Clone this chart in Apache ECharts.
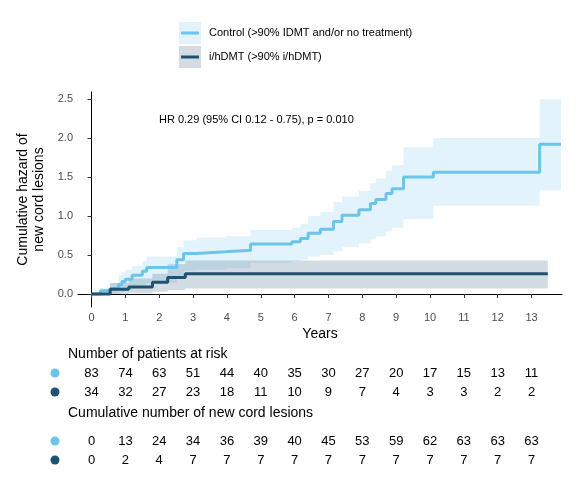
<!DOCTYPE html>
<html><head><meta charset="utf-8">
<script src="https://cdn.jsdelivr.net/npm/echarts@6/dist/echarts.min.js"></script>
<style>html,body{margin:0;padding:0;background:#fff}#c{width:576px;height:480px}</style>
</head><body><div id="c"></div>
<script>
const ctrlX   = [0,0.26,0.55,0.8,0.9,1.0,1.2,1.5,1.63,2.52,2.72,3.1,3.95,4.7,5.92,6.17,6.4,6.76,7.15,7.4,7.9,8.24,8.4,8.7,8.88,9.22,10.1,13.24,13.87];
const ctrlY   = [0,0.04,0.07,0.12,0.16,0.19,0.24,0.29,0.34,0.44,0.52,0.54,0.56,0.64,0.67,0.71,0.78,0.83,0.93,1.01,1.08,1.16,1.21,1.29,1.35,1.50,1.56,1.92,1.92];
const ctrlLo  = [0,0,0,0.02,0.03,0.05,0.08,0.11,0.14,0.2,0.3,0.31,0.33,0.4,0.42,0.44,0.48,0.5,0.55,0.6,0.65,0.7,0.74,0.8,0.85,0.96,1.13,1.33,1.33];
const ctrlHi  = [0,0.08,0.14,0.24,0.28,0.31,0.36,0.42,0.48,0.6,0.69,0.72,0.74,0.82,0.85,0.9,1.0,1.05,1.18,1.25,1.32,1.42,1.48,1.58,1.65,1.88,2.0,2.5,2.5];
const dmtX    = [0,0.55,1.1,1.8,2.25,2.77,13.48];
const dmtY    = [0,0.06,0.09,0.15,0.21,0.26,0.26];
const dmtLo   = [0,0,0.01,0.03,0.05,0.07,0.07];
const dmtHi   = [0,0.14,0.2,0.26,0.38,0.43,0.43];
const years   = [0,1,2,3,4,5,6,7,8,9,10,11,12,13];
const riskCtrl= [83,74,63,51,44,40,35,30,27,20,17,15,13,11];
const riskDmt = [34,32,27,23,18,11,10,9,7,4,3,3,2,2];
const cumCtrl = [0,13,24,34,36,39,40,45,53,59,62,63,63,63];
const cumDmt  = [0,2,4,7,7,7,7,7,7,7,7,7,7,7];
const yTicks  = [0,0.5,1,1.5,2,2.5];

const C1='#6cc4ea', C2='#1f5270', F='Liberation Sans';
const pairs=(xs,ys)=>xs.map((x,i)=>[x,ys[i]]);
function stepPts(xs,ys){const p=[];for(let i=0;i<xs.length;i++){if(i>0)p.push([xs[i],ys[i-1]]);p.push([xs[i],ys[i]]);}return p;}
function band(xs,lo,hi,col){
  return {type:'custom',silent:true,z:1,data:[[xs[0],lo[0]]],
    renderItem:(params,api)=>{
      const up=stepPts(xs,hi), dn=stepPts(xs,lo).reverse();
      const pts=up.concat(dn).map(p=>api.coord(p));
      return {type:'polygon',shape:{points:pts},style:{fill:col}};
    }};
}
const chart=echarts.init(document.getElementById('c'),null,{renderer:'canvas'});
chart.setOption({
  animation:false,
  grid:{left:78,right:14,top:92,bottom:173},
  xAxis:{type:'value',min:-0.4,max:13.9,
    axisLine:{lineStyle:{color:'#000'}},splitLine:{show:false},
    axisTick:{customValues:years,length:4,lineStyle:{color:'#333'}},
    axisLabel:{customValues:years,color:'#4d4d4d',fontFamily:F,fontSize:11,margin:5},
    name:'Years',nameLocation:'middle',nameGap:20,nameTextStyle:{color:'#000',fontFamily:F,fontSize:14}},
  yAxis:{type:'value',min:-0.167,max:2.59,
    axisLine:{show:true,lineStyle:{color:'#000'}},splitLine:{show:false},
    axisTick:{show:true,customValues:yTicks,length:4,lineStyle:{color:'#333'}},
    axisLabel:{customValues:yTicks,color:'#4d4d4d',fontFamily:F,fontSize:11,margin:5,formatter:v=>v.toFixed(1)},
    name:'Cumulative hazard of\nnew cord lesions',nameLocation:'middle',nameGap:30,nameTextStyle:{color:'#000',fontFamily:F,fontSize:14,lineHeight:16}},
  series:[
    band(ctrlX,ctrlLo,ctrlHi,'rgba(108,196,234,0.2)'),
    band(dmtX,dmtLo,dmtHi,'rgba(31,82,112,0.2)'),
    {type:'line',step:'end',symbol:'none',data:pairs(ctrlX,ctrlY),lineStyle:{color:C1,width:3},z:3},
    {type:'line',step:'end',symbol:'none',data:pairs(dmtX,dmtY),lineStyle:{color:C2,width:3},z:3}
  ]
});
const px=x=>chart.convertToPixel({xAxisIndex:0},x);
const g=[];
g.push({type:'text',left:159,top:114,style:{text:'HR 0.29 (95% CI 0.12 - 0.75), p = 0.010',font:'11px '+F,fill:'#000'}});
[[C1,'Control (>90% IDMT and/or no treatment)',22,'rgba(108,196,234,0.2)'],[C2,'i/hDMT (>90% i/hDMT)',46,'rgba(31,82,112,0.2)']].forEach(([c,t,y,f])=>{
  g.push({type:'rect',shape:{x:179,y:y,width:22,height:22},style:{fill:f}});
  g.push({type:'line',shape:{x1:181,y1:y+11,x2:199,y2:y+11},style:{stroke:c,lineWidth:3}});
  g.push({type:'text',x:209,y:y+11,style:{text:t,font:'11px '+F,fill:'#000',verticalAlign:'middle'}});
});
g.push({type:'text',x:68,y:354,style:{text:'Number of patients at risk',font:'14px '+F,fill:'#000',verticalAlign:'middle'}});
g.push({type:'text',x:68,y:413,style:{text:'Cumulative number of new cord lesions',font:'14px '+F,fill:'#000',verticalAlign:'middle'}});
[[riskCtrl,373,C1],[riskDmt,392,C2],[cumCtrl,441,C1],[cumDmt,460,C2]].forEach(([arr,y,c])=>{
  g.push({type:'circle',shape:{cx:55,cy:y,r:4.5},style:{fill:c}});
  arr.forEach((v,i)=>g.push({type:'text',x:px(years[i]),y:y,style:{text:String(v),font:'13px '+F,fill:'#000',align:'center',verticalAlign:'middle'}}));
});
chart.setOption({graphic:g});
</script></body></html>
